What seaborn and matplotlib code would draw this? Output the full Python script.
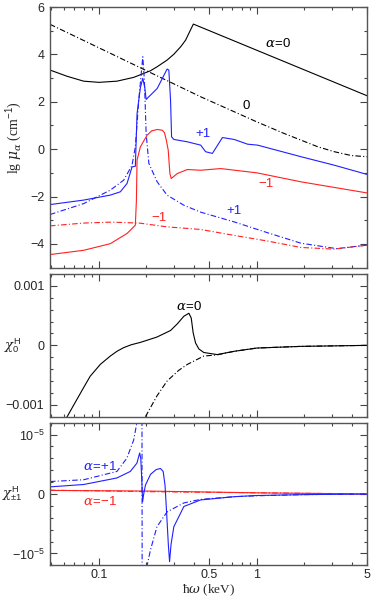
import numpy as np
import matplotlib
matplotlib.use('Agg')
import matplotlib.pyplot as plt
import matplotlib.ticker as mticker
import seaborn as sns

# ---- top panel: lg mu_alpha ----
x_mu0 = [0.049, 0.0626, 0.080, 0.1, 0.130, 0.166, 0.212, 0.2337, 0.27, 0.2982, 0.329, 0.3535,
         0.371, 0.396, 5.0]
y_mu0 = [3.34, 3.08, 2.87, 2.82, 2.87, 3.03, 3.31, 3.48, 3.76, 4.01, 4.32, 4.6,
         4.89, 5.28, 2.25]

x_mu0d = [0.049, 0.102, 0.212, 0.441, 0.718, 1.0, 1.49, 2.43, 3.10, 3.96, 5.0]
y_mu0d = [5.27, 4.25, 3.23, 2.21, 1.58, 1.15, 0.66, 0.10, -0.11, -0.27, -0.32]

x_mup = [0.049, 0.080, 0.118, 0.1366, 0.1506, 0.162, 0.170, 0.1743, 0.183, 0.1895, 0.195, 0.199,
         0.2337, 0.270, 0.277, 0.284, 0.2883, 0.2982, 0.3626, 0.4406, 0.474, 0.5228, 0.605,
         0.7177, 0.8724, 1.01, 1.904, 3.10, 5.0]
y_mup = [-2.34, -2.15, -1.94, -1.8, -1.45, -0.75, -0.72, 1.5, 2.6, 2.99, 2.6, 2.1,
         2.56, 3.38, 3.34, 2.07, 0.52, 0.41, 0.31, 0.17, -0.11, -0.18, 0.49,
         0.41, 0.21, 0.17, -0.32, -0.68, -1.07]

x_mupd = [0.049, 0.080, 0.118, 0.1434, 0.162, 0.170, 0.1787, 0.1895, 0.194, 0.199, 0.207,
          0.2337, 0.270, 0.3454, 0.4406, 0.7177, 1.17, 1.9, 3.2, 5.0]
y_mupd = [-2.76, -2.30, -1.73, -1.31, -0.68, 0.1, 2.07, 3.9, 2.9, 0.66, -0.6,
          -1.38, -1.94, -2.37, -2.66, -3.07, -3.53, -3.97, -4.2, -4.05]

x_mum = [0.049, 0.080, 0.118, 0.1506, 0.170, 0.1727, 0.1743, 0.183, 0.2018, 0.2155, 0.2337,
         0.2515, 0.26, 0.267, 0.2745, 0.2813, 0.2869, 0.3131, 0.3626, 0.4406, 0.590, 1.0,
         1.904, 5.0]
y_mum = [-4.45, -4.27, -3.99, -3.56, -3.21, -2.15, -0.46, 0.1, 0.59, 0.77, 0.83,
         0.8, 0.69, 0.38, -0.04, -1.03, -1.24, -1.03, -0.86, -0.89, -0.82, -1.0,
         -1.38, -1.85]

x_mumd = [0.049, 0.080, 0.12, 0.18, 0.27, 0.44, 0.7175, 1.17, 1.9, 3.09, 5.0]
y_mumd = [-3.24, -3.12, -3.08, -3.12, -3.28, -3.39, -3.64, -3.88, -4.15, -4.22, -4.05]

# ---- middle panel: chi_0^H (units 1e-3) ----
x_c0 = [0.0626, 0.0725, 0.080, 0.088, 0.102, 0.118, 0.130, 0.143, 0.160, 0.183, 0.233, 0.284,
        0.313, 0.345, 0.371, 0.384, 0.395, 0.409, 0.429, 0.461, 0.56, 0.718, 1.0, 1.904, 5.0]
y_c0 = [-1.21, -0.91, -0.71, -0.52, -0.32, -0.18, -0.10, -0.04, 0.01, 0.05, 0.14, 0.25,
        0.36, 0.49, 0.54, 0.46, 0.21, 0.04, -0.06, -0.12, -0.155, -0.10, -0.045, -0.017, 0.0]

x_c0d = [0.197, 0.233, 0.27, 0.32, 0.363, 0.461, 0.56, 0.718, 1.0, 1.904, 5.0]
y_c0d = [-1.20, -0.85, -0.60, -0.42, -0.32, -0.18, -0.16, -0.10, -0.045, -0.017, 0.0]

# ---- bottom panel: chi_{+-1}^H (units 1e-5) ----
x_c1p = [0.049, 0.080, 0.130, 0.158, 0.174, 0.181, 0.184, 0.187, 0.189, 0.192, 0.197,
         0.212, 0.23, 0.245, 0.255, 0.262, 0.268, 0.275, 0.28, 0.286, 0.298, 0.345, 0.44,
         0.72, 1.0, 2.0, 5.0]
y_c1p = [0.12, 0.16, 0.27, 0.38, 0.52, 0.69, 0.6, 0.2, -0.13, 0.0, 0.15,
         0.33, 0.41, 0.43, 0.38, 0.15, -0.3, -0.85, -1.14, -0.85, -0.55, -0.21, -0.10,
         -0.045, -0.025, -0.01, 0.0]

x_c1pd = [0.049, 0.080, 0.130, 0.150, 0.166, 0.173, 0.178, 0.183, 0.187, 0.188, 0.195,
          0.202, 0.212, 0.233, 0.27, 0.345, 0.44, 0.72, 1.0, 2.0, 5.0]
y_c1pd = [0.21, 0.24, 0.38, 0.60, 0.91, 1.17, 1.5, 2.0, 3.0, -3.0, -2.0,
          -1.2, -0.94, -0.55, -0.30, -0.15, -0.09, -0.045, -0.03, -0.01, 0.0]

x_c1m = [0.049, 0.2, 1.0, 5.0]
y_c1m = [0.06, 0.05, 0.02, 0.0]

x_c1md = [0.049, 0.2, 1.0, 4.0]
y_c1md = [0.065, 0.04, 0.02, 0.005]

sns.set_theme(style='ticks')
plt.rcParams['font.family'] = ['Liberation Sans', 'DejaVu Sans']
plt.rcParams['mathtext.fontset'] = 'custom'
plt.rcParams['mathtext.rm'] = 'Liberation Sans'
plt.rcParams['mathtext.it'] = 'DejaVu Serif:italic'
plt.rcParams['axes.unicode_minus'] = True

BLUE = '#2020ff'
RED = '#ff2020'
DD = (0, (5, 2, 1, 2))
LW = 0.8

fig = plt.figure(figsize=(3.74, 6.0), dpi=100)
ax1 = fig.add_axes([0.1337, 0.554, 0.8484, 0.4343])
ax2 = fig.add_axes([0.1337, 0.3055, 0.8484, 0.2378])
ax3 = fig.add_axes([0.1337, 0.0578, 0.8484, 0.2377])


def line(ax, x, y, color, ls='-', scale=1.0):
    sns.lineplot(x=np.array(x), y=np.array(y) * scale, ax=ax, color=color,
                 linestyle=ls, lw=LW, estimator=None, sort=False)


line(ax1, x_mu0, y_mu0, 'black')
line(ax1, x_mu0d, y_mu0d, 'black', DD)
line(ax1, x_mup, y_mup, BLUE)
line(ax1, x_mupd, y_mupd, BLUE, DD)
line(ax1, x_mum, y_mum, RED)
line(ax1, x_mumd, y_mumd, RED, DD)

line(ax2, x_c0, y_c0, 'black', scale=1e-3)
line(ax2, x_c0d, y_c0d, 'black', DD, scale=1e-3)

line(ax3, x_c1md, y_c1md, RED, DD, scale=1e-5)
line(ax3, x_c1m, y_c1m, RED, scale=1e-5)
line(ax3, x_c1pd, y_c1pd, BLUE, DD, scale=1e-5)
line(ax3, x_c1p, y_c1p, BLUE, scale=1e-5)

for ax in (ax1, ax2, ax3):
    ax.set_xscale('log')
    ax.set_xlim(0.049, 5.0)
    ax.xaxis.set_major_locator(mticker.FixedLocator([0.1, 0.5, 1, 5]))
    ax.xaxis.set_minor_locator(mticker.FixedLocator(
        [0.05, 0.06, 0.07, 0.08, 0.09, 0.2, 0.3, 0.4, 0.6, 0.7, 0.8, 0.9, 2, 3, 4]))
    ax.xaxis.set_major_formatter(mticker.FixedFormatter(['0.1', '0.5', '1', '5']))
    ax.xaxis.set_minor_formatter(mticker.NullFormatter())
    ax.tick_params(which='both', direction='in', top=True, right=True,
                   color='#444444', width=0.8, labelsize=9, pad=4)
    ax.tick_params(which='major', length=5)
    ax.tick_params(which='minor', length=2.5)
    for s in ax.spines.values():
        s.set_color('#555555')
        s.set_linewidth(1.0)
    ax.set_xlabel('')
    ax.set_ylabel('')

ax1.tick_params(labelbottom=False)
ax2.tick_params(labelbottom=False)
ax3.tick_params(axis='x', pad=3)

ax1.set_ylim(-5, 6)
ax1.yaxis.set_major_locator(mticker.MultipleLocator(2))
ax1.yaxis.set_minor_locator(mticker.MultipleLocator(1))

ax2.set_ylim(-0.0012, 0.0012)
ax2.yaxis.set_major_locator(mticker.FixedLocator([-0.001, 0, 0.001]))
ax2.yaxis.set_major_formatter(mticker.FixedFormatter(['\u22120.001', '0', '0.001']))
ax2.yaxis.set_minor_locator(mticker.MultipleLocator(0.0002))

ax3.set_ylim(-1.2e-5, 1.2e-5)
ax3.yaxis.set_major_locator(mticker.FixedLocator([-1e-5, 0, 1e-5]))
ax3.yaxis.set_major_formatter(mticker.FixedFormatter([r'$-10^{-5}$', '0', r'$10^{-5}$']))
ax3.yaxis.set_minor_locator(mticker.MultipleLocator(0.2e-5))

serif = ['Liberation Serif', 'DejaVu Serif']
fig.text(0.037, 0.771, r'lg $\mu_\alpha$ (cm$^{-1}$)', rotation=90, ha='center', va='center',
         fontsize=10, family=serif)
fig.text(0.033, 0.424, r'$\chi_0^{\rm H}$', ha='center', va='center', fontsize=9.5)
fig.text(0.033, 0.177, r'$\chi_{\pm1}^{\rm H}$', ha='center', va='center', fontsize=9.5)
fig.text(0.5575, 0.017, 'ħ$\\omega$ (keV)', ha='center', va='center', fontsize=9.5,
         family=serif)

lab = dict(fontsize=9.5, ha='center', va='center')
ax1.text(1.36, 4.47, r'$\alpha\!=\!0$', color='black', **lab)
ax1.text(0.851, 1.81, '0', color='black', **lab)
ax1.text(0.455, 0.63, '+1', color=BLUE, **lab)
ax1.text(1.14, -1.48, '\u22121', color=RED, **lab)
ax1.text(0.714, -2.62, '+1', color=BLUE, **lab)
ax1.text(0.241, -2.91, '\u22121', color=RED, **lab)

ax2.text(0.37, 0.65e-3, r'$\alpha\!=\!0$', color='black', **lab)

ax3.text(0.102, 0.46e-5, r'$\alpha\!=\!{+}1$', color=BLUE, **lab)
ax3.text(0.102, -0.12e-5, r'$\alpha\!=\!{-}1$', color=RED, **lab)

plt.savefig('out.png', dpi=100)
